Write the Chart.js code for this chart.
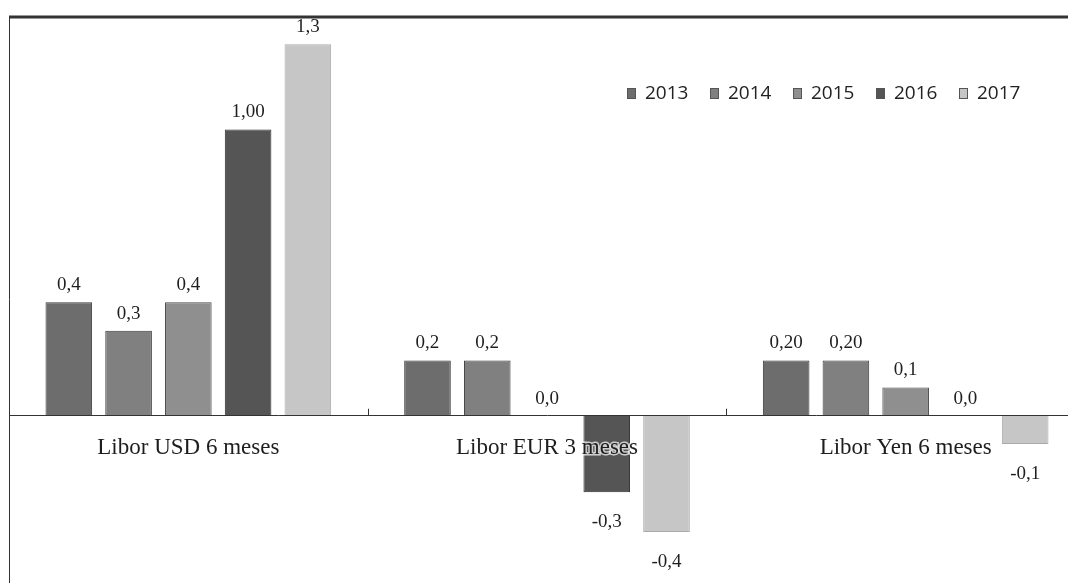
<!DOCTYPE html>
<html>
<head>
<meta charset="utf-8">
<script src="https://cdn.jsdelivr.net/npm/chart.js@4"></script>
<style>
  html, body { margin: 0; padding: 0; background: #fff; overflow: hidden; }
  #wrap { position: relative; width: 1090px; height: 583px; }
</style>
</head>
<body>
<div id="wrap"><canvas id="liborChart"></canvas></div>
<script>
// datos
const categorias = ['Libor USD 6 meses', 'Libor EUR 3 meses', 'Libor Yen 6 meses'];
const anios = ['2013', '2014', '2015', '2016', '2017'];
const v2013 = [0.40, 0.195, 0.195];
const v2014 = [0.30, 0.195, 0.195];
const v2015 = [0.40, 0.0, 0.10];
const v2016 = [1.01, -0.27, 0.0];
const v2017 = [1.31, -0.41, -0.10];
// etiquetas tal como aparecen
const e2013 = ['0,4', '0,2', '0,20'];
const e2014 = ['0,3', '0,2', '0,20'];
const e2015 = ['0,4', '0,0', '0,1'];
const e2016 = ['1,00', '-0,3', '0,0'];
const e2017 = ['1,3', '-0,4', '-0,1'];

const colores = ['#6d6d6d', '#808080', '#8f8f8f', '#555555', '#c6c6c6'];
const bordes = ['#3a3a3a', '#3a3a3a', '#4a4a4a', '#2e2e2e', '#aaaaaa'];
const valores = [v2013, v2014, v2015, v2016, v2017];
const etiquetas = [e2013, e2014, e2015, e2016, e2017];

// marco, marcas del eje, etiquetas de datos y leyenda
const extras = {
  id: 'extras',
  afterDraw(chart) {
    const ctx = chart.ctx;
    const area = chart.chartArea;
    const x = chart.scales.x;
    const y0 = chart.scales.y.getPixelForValue(0);
    ctx.save();

    // marco
    ctx.strokeStyle = '#333';
    ctx.lineWidth = 1;
    ctx.beginPath();
    ctx.moveTo(area.left + 0.5, area.top);
    ctx.lineTo(area.left + 0.5, area.bottom);
    ctx.stroke();
    ctx.lineWidth = 3;
    ctx.beginPath();
    ctx.moveTo(area.left, area.top + 1);
    ctx.lineTo(area.right + 10, area.top + 1);
    ctx.stroke();

    // marcas entre categorias
    ctx.lineWidth = 1;
    for (let i = 0; i < categorias.length - 1; i++) {
      const px = Math.round((x.getPixelForValue(i) + x.getPixelForValue(i + 1)) / 2) + 0.5;
      ctx.beginPath();
      ctx.moveTo(px, y0);
      ctx.lineTo(px, y0 - 7);
      ctx.stroke();
    }

    // etiquetas de datos
    ctx.fillStyle = '#1e1e1e';
    ctx.font = '19px "Liberation Serif"';
    ctx.textAlign = 'center';
    ctx.textBaseline = 'middle';
    chart.data.datasets.forEach((ds, d) => {
      const meta = chart.getDatasetMeta(d);
      meta.data.forEach((bar, i) => {
        const v = ds.data[i];
        const ty = v < 0 ? bar.y + 30 : bar.y - 17;
        ctx.fillText(etiquetas[d][i], bar.x, ty);
      });
    });

    // leyenda
    ctx.font = '19px "Open Sans"';
    ctx.textAlign = 'left';
    anios.forEach((a, i) => {
      const lx = 627 + i * 83;
      ctx.fillStyle = colores[i];
      ctx.fillRect(lx, 88, 9, 11);
      ctx.strokeStyle = '#555';
      ctx.strokeRect(lx + 0.5, 88.5, 8, 10);
      ctx.fillStyle = '#222';
      ctx.fillText(a, lx + 18, 94);
    });
    ctx.restore();
  }
};

const ctx = document.getElementById('liborChart').getContext('2d');
new Chart(ctx, {
  type: 'bar',
  data: {
    labels: categorias,
    datasets: anios.map((a, i) => ({
      label: a,
      data: valores[i],
      backgroundColor: colores[i],
      borderColor: bordes[i],
      borderWidth: 1,
      categoryPercentage: 0.833,
      barPercentage: 0.78
    }))
  },
  options: {
    responsive: true,
    maintainAspectRatio: false,
    animation: false,
    layout: { padding: { left: 9, top: 16, right: 5, bottom: 0 } },
    plugins: {
      legend: { display: false },
      tooltip: { enabled: false }
    },
    scales: {
      x: {
        position: { y: 0 },
        grid: { display: false, tickLength: 0 },
        border: { display: true, color: '#333', width: 1, z: 1 },
        ticks: {
          z: 1,
          color: '#1e1e1e',
          font: { family: 'Liberation Serif', size: 23 },
          padding: 18,
          maxRotation: 0,
          textStrokeColor: 'rgba(255,255,255,0.7)',
          textStrokeWidth: 3
        }
      },
      y: {
        display: false,
        min: -0.59,
        max: 1.41
      }
    }
  },
  plugins: [extras]
});
</script>
</body>
</html>
